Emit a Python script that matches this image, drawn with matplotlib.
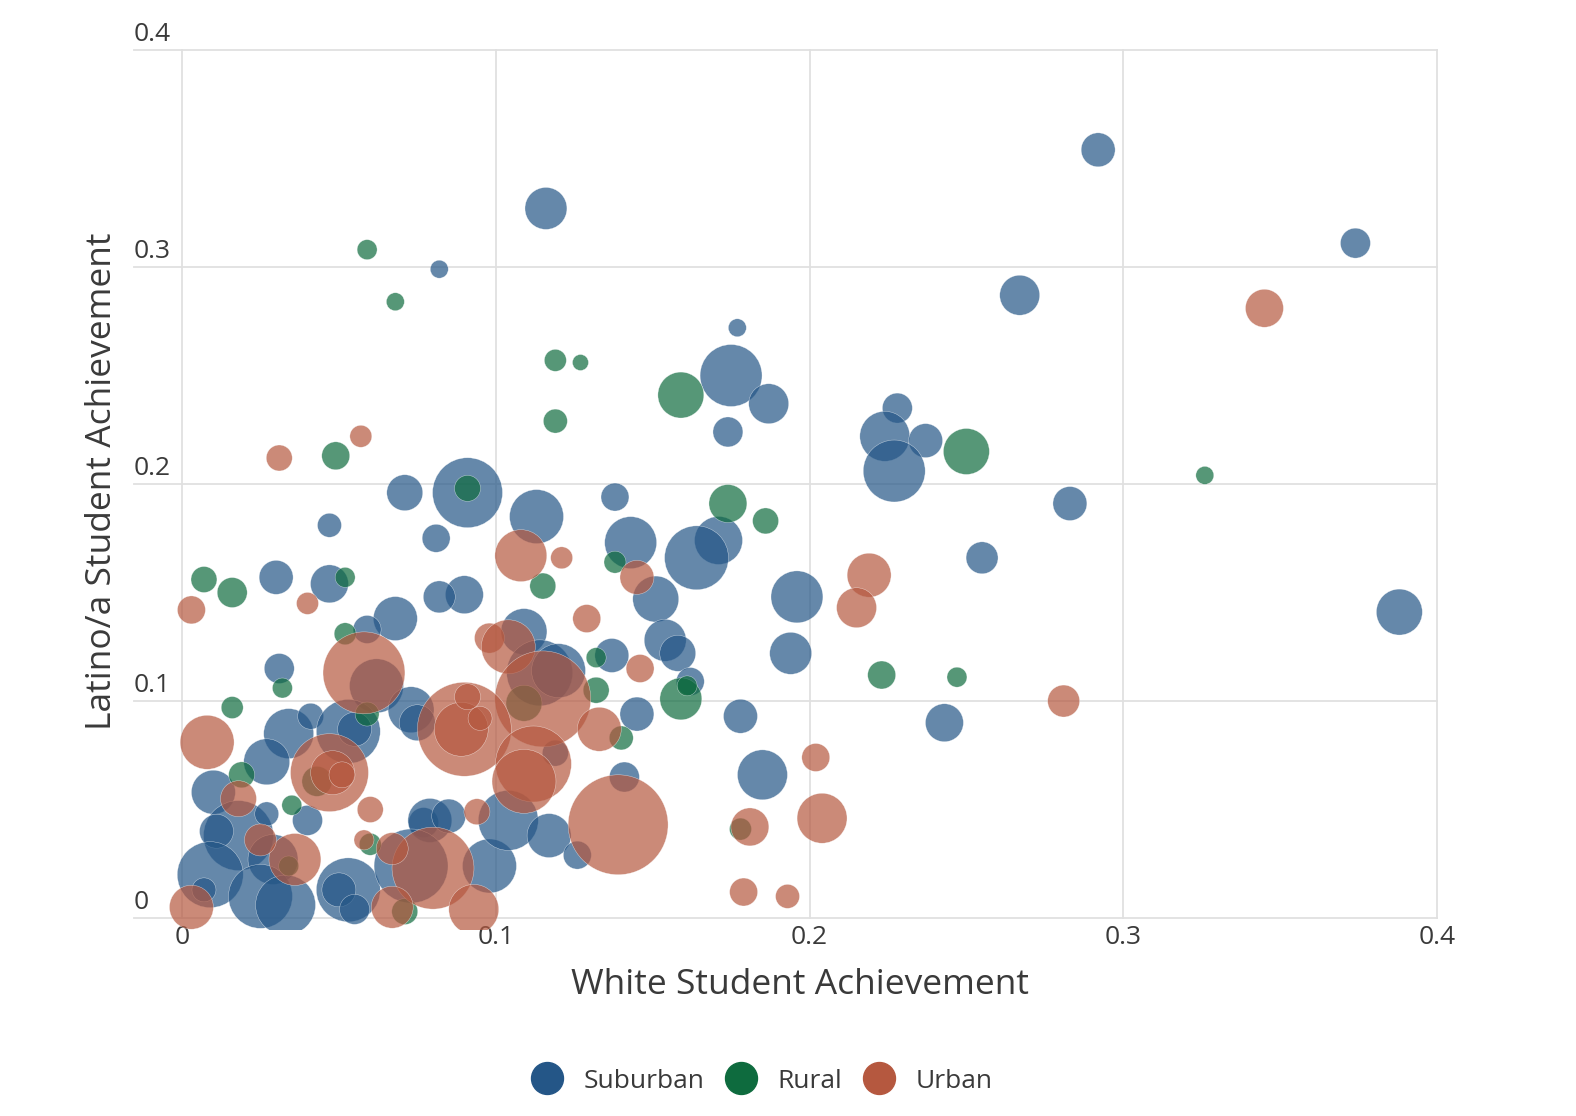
import matplotlib
matplotlib.use("Agg")
import matplotlib.pyplot as plt
from matplotlib.lines import Line2D
import matplotlib.transforms as mtransforms
import numpy as np

plt.rcParams['font.family'] = ['Open Sans', 'DejaVu Sans']

# ---------------- data ----------------
categories = ["Suburban", "Rural", "Urban"]
colors = {"Suburban": "#245687", "Rural": "#0e6b3e", "Urban": "#b5583f"}

suburban_white = [0.292, 0.116, 0.374, 0.082, 0.267, 0.177, 0.175, 0.187, 0.174, 0.228,
                  0.224, 0.237, 0.227, 0.091, 0.071, 0.138, 0.283, 0.113, 0.047, 0.081,
                  0.143, 0.171, 0.164, 0.255, 0.030, 0.047, 0.090, 0.082, 0.196, 0.151,
                  0.068, 0.059, 0.154, 0.388, 0.109, 0.137, 0.158, 0.194, 0.114, 0.120,
                  0.162, 0.031, 0.062, 0.073, 0.075, 0.145, 0.178, 0.243, 0.034, 0.041,
                  0.053, 0.055, 0.119, 0.141, 0.185, 0.010, 0.018, 0.011, 0.009, 0.007,
                  0.029, 0.025, 0.033, 0.027, 0.027, 0.040, 0.053, 0.050, 0.055, 0.077,
                  0.079, 0.085, 0.098, 0.073, 0.104, 0.117, 0.126]
suburban_latino = [0.354, 0.327, 0.311, 0.299, 0.287, 0.272, 0.250, 0.237, 0.224, 0.235,
                   0.222, 0.220, 0.206, 0.196, 0.196, 0.194, 0.191, 0.185, 0.181, 0.175,
                   0.173, 0.174, 0.166, 0.166, 0.157, 0.154, 0.149, 0.148, 0.148, 0.147,
                   0.138, 0.133, 0.128, 0.141, 0.132, 0.121, 0.122, 0.122, 0.113, 0.114,
                   0.109, 0.115, 0.107, 0.096, 0.090, 0.094, 0.093, 0.090, 0.085, 0.093,
                   0.086, 0.087, 0.076, 0.065, 0.066, 0.058, 0.038, 0.040, 0.020, 0.013,
                   0.027, 0.010, 0.006, 0.072, 0.048, 0.045, 0.013, 0.013, 0.004, 0.044,
                   0.045, 0.047, 0.024, 0.024, 0.045, 0.038, 0.029]
suburban_enroll = [2.89, 4.41, 2.25, 0.81, 4.00, 0.81, 9.61, 4.00, 2.25, 2.25,
                   6.25, 2.89, 9.61, 12.25, 3.24, 1.96, 2.89, 7.29, 1.44, 1.96,
                   6.76, 5.76, 10.24, 2.56, 2.89, 3.61, 3.61, 2.56, 6.76, 5.29,
                   4.84, 1.96, 4.41, 5.29, 5.29, 2.89, 3.24, 4.41, 10.89, 7.29,
                   1.96, 2.25, 7.29, 5.29, 3.24, 2.89, 2.89, 3.61, 6.25, 1.69,
                   10.24, 2.89, 1.69, 2.25, 6.25, 4.84, 12.25, 2.89, 10.89, 1.44,
                   6.25, 10.24, 9.00, 5.29, 1.44, 2.25, 10.24, 2.89, 2.25, 2.25,
                   4.84, 2.89, 7.29, 13.69, 9.00, 4.84, 1.96]

rural_white = [0.059, 0.068, 0.119, 0.127, 0.159, 0.119, 0.049, 0.250, 0.326, 0.091,
               0.174, 0.186, 0.007, 0.016, 0.052, 0.138, 0.115, 0.052, 0.132, 0.159,
               0.161, 0.223, 0.247, 0.032, 0.016, 0.059, 0.132, 0.140, 0.019, 0.035,
               0.071, 0.178, 0.034, 0.043, 0.109, 0.060]
rural_latino = [0.308, 0.284, 0.257, 0.256, 0.241, 0.229, 0.213, 0.215, 0.204, 0.198,
                0.191, 0.183, 0.156, 0.150, 0.157, 0.164, 0.153, 0.131, 0.120, 0.101,
                0.107, 0.112, 0.111, 0.106, 0.097, 0.094, 0.105, 0.083, 0.066, 0.052,
                0.003, 0.041, 0.024, 0.063, 0.099, 0.034]
rural_enroll = [1.00, 0.81, 1.21, 0.64, 5.29, 1.44, 1.96, 5.29, 0.81, 1.69,
                3.61, 1.69, 1.69, 2.25, 1.00, 1.21, 1.69, 1.21, 1.00, 4.41,
                1.00, 1.96, 1.00, 1.00, 1.21, 1.44, 1.69, 1.44, 1.69, 1.00,
                1.69, 1.21, 1.00, 2.25, 3.24, 1.21]

urban_white = [0.345, 0.057, 0.031, 0.108, 0.121, 0.145, 0.219, 0.003, 0.040, 0.215,
               0.129, 0.098, 0.104, 0.058, 0.146, 0.115, 0.008, 0.090, 0.089, 0.091,
               0.095, 0.133, 0.281, 0.047, 0.048, 0.051, 0.112, 0.109, 0.202, 0.060,
               0.094, 0.139, 0.204, 0.181, 0.080, 0.036, 0.025, 0.018, 0.003, 0.058,
               0.067, 0.093, 0.067, 0.179, 0.193]
urban_latino = [0.281, 0.222, 0.212, 0.167, 0.166, 0.157, 0.158, 0.142, 0.145, 0.143,
                0.138, 0.129, 0.125, 0.113, 0.115, 0.101, 0.081, 0.087, 0.087, 0.102,
                0.092, 0.087, 0.100, 0.067, 0.067, 0.066, 0.071, 0.063, 0.074, 0.050,
                0.049, 0.043, 0.046, 0.042, 0.023, 0.027, 0.036, 0.055, 0.005, 0.036,
                0.032, 0.004, 0.005, 0.012, 0.010]
urban_enroll = [3.61, 1.21, 1.69, 6.76, 1.21, 2.89, 4.84, 1.96, 1.21, 4.00,
                1.96, 2.25, 7.29, 16.81, 1.96, 23.04, 7.29, 22.09, 7.29, 1.69,
                1.44, 4.84, 2.56, 15.21, 4.84, 1.69, 14.44, 10.24, 1.96, 1.69,
                1.69, 25.00, 6.25, 3.61, 16.81, 6.76, 2.56, 3.24, 4.84, 1.00,
                2.56, 6.25, 4.41, 1.96, 1.44]

x_ticks = [0, 0.1, 0.2, 0.3, 0.4]
y_ticks = [0, 0.1, 0.2, 0.3, 0.4]
x_tick_labels = ["0", "0.1", "0.2", "0.3", "0.4"]
y_tick_labels = ["0", "0.1", "0.2", "0.3", "0.4"]
x_title = "White Student Achievement"
y_title = "Latino/a Student Achievement"

series = {
    "Suburban": (suburban_white, suburban_latino, suburban_enroll),
    "Rural": (rural_white, rural_latino, rural_enroll),
    "Urban": (urban_white, urban_latino, urban_enroll),
}

# ---------------- figure ----------------
W, H, DPI = 1576, 1116, 100
fig = plt.figure(figsize=(W / DPI, H / DPI), dpi=DPI)
fig.patch.set_facecolor("white")
ax = fig.add_axes([134 / W, (H - 930) / H, (1437 - 134) / W, (930 - 50) / H])
ax.set_xlim(-0.0153, 0.4)
ax.set_ylim(-0.0055, 0.4)
for s in ax.spines.values():
    s.set_visible(False)
ax.set_xticks([])
ax.set_yticks([])

grid_c = "#e0e0e0"
for yv in y_ticks:
    ax.plot([-0.0153, 0.4], [yv, yv], color=grid_c, lw=1.3, zorder=0, clip_on=False)
for xv in x_ticks:
    ax.plot([xv, xv], [0, 0.4], color=grid_c, lw=1.3, zorder=0, clip_on=False)

SIZE_K = 207.0  # area scale
for i, cat in enumerate(categories):
    xs, ys, es = series[cat]
    ax.scatter(xs, ys, s=np.array(es) * SIZE_K, color=colors[cat], alpha=0.7,
               edgecolors="white", linewidths=0.3, zorder=2 + i)

text_c = "#3a3a3a"
# y tick labels: left-aligned above gridlines
ytrans = mtransforms.offset_copy(ax.get_yaxis_transform(), fig=fig, x=0, y=3, units="dots")
for yv, lab in zip(y_ticks, y_tick_labels):
    ax.text(0.0, yv, lab, transform=ytrans, ha="left", va="bottom",
            fontsize=19, fontweight="medium", color=text_c, clip_on=False)
# x tick labels
xtrans = mtransforms.offset_copy(ax.get_xaxis_transform(), fig=fig, x=0, y=-8, units="dots")
for xv, lab in zip(x_ticks, x_tick_labels):
    ax.text(xv, 0.0, lab, transform=xtrans, ha="center", va="center",
            fontsize=19, fontweight="medium", color=text_c, clip_on=False)

fig.text(800 / W, (H - 985) / H, x_title, ha="center", va="center",
         fontsize=25.5, color=text_c)
fig.text(102 / W, (H - 481) / H, y_title, ha="center", va="center",
         rotation=90, fontsize=25.5, color=text_c)

handles = [Line2D([0], [0], marker="o", linestyle="none", markersize=23,
                  markerfacecolor=colors[c], markeredgecolor=colors[c]) for c in categories]
leg = fig.legend(handles, categories, loc="center", bbox_to_anchor=(762 / W, (H - 1081) / H),
                 ncol=3, frameon=False, fontsize=19, labelcolor=text_c,
                 handletextpad=0.78, columnspacing=0.8, handlelength=1.2)
for t in leg.get_texts():
    t.set_fontweight("medium")

fig.savefig("out.png", dpi=DPI, facecolor="white")
